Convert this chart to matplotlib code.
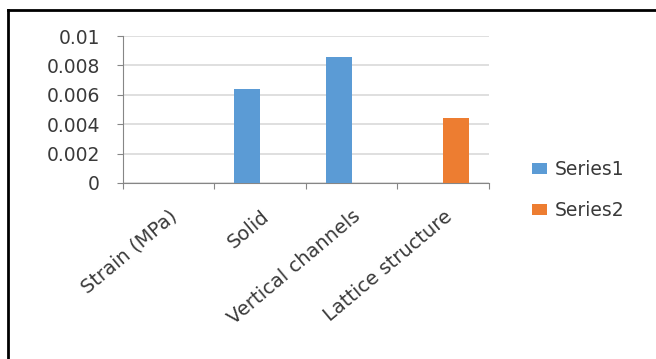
import matplotlib
matplotlib.use("Agg")
import matplotlib.pyplot as plt
from matplotlib.lines import Line2D
import numpy as np

categorias = ["Strain (MPa)", "Solid", "Vertical channels", "Lattice structure"]
serie1 = [0, 0.0064, 0.0086, 0]
serie2 = [0, 0, 0, 0.0044]
nomes = ["Series1", "Series2"]
cores = ["#5B9BD5", "#ED7D31"]
cor_texto = "#3a3a3a"

plt.rcParams["font.family"] = ["DejaVu Sans"]

fig = plt.figure(figsize=(6.56, 3.59), dpi=100)
ax = fig.add_axes([0.1875, 0.4903, 0.5579, 0.4094])

x = np.arange(len(categorias))
largura = 1 / 3.5
ax.bar(x - largura / 2, serie1, largura, color=cores[0], label=nomes[0], zorder=3)
ax.bar(x + largura / 2, serie2, largura, color=cores[1], label=nomes[1], zorder=3)

ax.set_xlim(-0.5, len(categorias) - 0.5)
ax.set_ylim(0, 0.01)
ax.set_yticks([0, 0.002, 0.004, 0.006, 0.008, 0.01])
ax.set_yticklabels(["0", "0.002", "0.004", "0.006", "0.008", "0.01"])
ax.yaxis.grid(True, color="#d9d9d9", linewidth=1.2, zorder=0)

# ticks nas divisões, rótulos no centro das categorias
ax.set_xticks(np.arange(len(categorias) + 1) - 0.5)
ax.set_xticklabels([])
ax.set_xticks(x, minor=True)
ax.set_xticklabels(categorias, minor=True, rotation=40, ha="right", va="top",
                   rotation_mode="anchor", fontsize=14, color=cor_texto)
ax.tick_params(axis="x", which="minor", length=0, pad=17)
ax.tick_params(axis="x", which="major", length=4, color="#868686")
ax.tick_params(axis="y", length=4, color="#868686", labelsize=13.5,
               labelcolor=cor_texto, pad=12.5)

for lado in ["top", "right"]:
    ax.spines[lado].set_visible(False)
for lado in ["left", "bottom"]:
    ax.spines[lado].set_color("#868686")

leg = fig.legend(loc="upper left", bbox_to_anchor=(0.785, 0.600), frameon=False,
                 fontsize=13.5, handlelength=0.8, handleheight=0.5, handletextpad=0.4,
                 labelspacing=1.15, labelcolor=cor_texto)

# moldura da imagem (esquerda e topo)
fig.add_artist(Line2D([0.012, 0.012], [0, 0.972], transform=fig.transFigure,
                      color="black", linewidth=2))
fig.add_artist(Line2D([0.012, 1.0], [0.972, 0.972], transform=fig.transFigure,
                      color="black", linewidth=2))

fig.savefig("out.png", dpi=100)
